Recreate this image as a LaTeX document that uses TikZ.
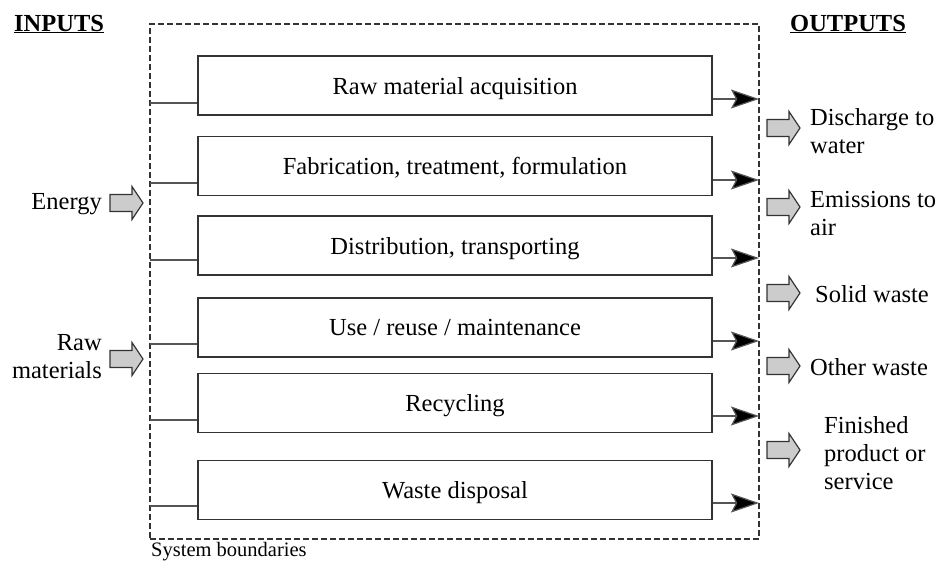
\documentclass[tikz,border=0pt]{standalone}
\usepackage{fontspec}
\setmainfont{Liberation Serif}
\usetikzlibrary{arrows.meta}
\definecolor{boxline}{HTML}{333333}
\definecolor{thinline}{HTML}{555555}
\definecolor{arrowfill}{HTML}{CCCCCC}
\newcommand\grayarrow[2]{%
  \draw[blockarrow] (#1,#2-8.5) -- (#1+22,#2-8.5) -- (#1+22,#2-16.5) -- (#1+33,#2) -- (#1+22,#2+16.5) -- (#1+22,#2+8.5) -- (#1,#2+8.5) -- cycle;}
\begin{document}
\begin{tikzpicture}[x=1pt,y=-1pt,
  font=\fontsize{24.5}{28}\selectfont,
  stepbox/.style={draw=boxline,line width=1.4pt,minimum width=514pt,minimum height=59pt,inner sep=0pt,text depth=0pt},
  sysbox/.style={draw=boxline,dashed,dash pattern=on 6pt off 3pt,line width=1.4pt,minimum width=609pt,minimum height=515pt,inner sep=0pt},
  inline/.style={draw=thinline,line width=1.2pt},
  outline/.style={draw=thinline,line width=1.2pt,-{Stealth[length=28pt,width=19pt,inset=5pt,fill=black]}},
  blockarrow/.style={draw=boxline,fill=arrowfill,line width=1.2pt,line join=miter},
  lbl/.style={inner sep=0pt},
  head/.style={inner sep=0pt,anchor=base west,font=\fontsize{24.5}{28}\selectfont\bfseries}]
\useasboundingbox (0,0) rectangle (941,562);
\node[sysbox] (sys) at (454.5,281.5) {};
\node[stepbox] (b1) at (455,85.5) {Raw material acquisition};
\node[stepbox] (b2) at (455,166) {Fabrication, treatment, formulation};
\node[stepbox] (b3) at (455,245.5) {Distribution, transporting};
\node[stepbox] (b4) at (455,327.5) {Use / reuse / maintenance};
\node[stepbox] (b5) at (455,403) {Recycling};
\node[stepbox] (b6) at (455,490) {Waste disposal};
% left connectors
\foreach \i/\y in {1/103,2/183,3/260,4/344,5/420,6/506}{
  \coordinate (l\i) at (150,\y);
  \draw[inline] (l\i) -- (l\i -| b\i.west);
}
% right connectors
\foreach \i/\y in {1/99,2/180,3/258,4/341,5/416,6/503}{
  \coordinate (r\i) at (759,\y);
  \draw[outline] (r\i -| b\i.east) -- (r\i);
}
% headings
\node[head] (inputs) at (14,31) {\underline{INPUTS}};
\node[head] (outputs) at (790,31) {\underline{OUTPUTS}};
\node[lbl,anchor=base west,font=\fontsize{20.5}{24}\selectfont] (sb) at (151,556) {System boundaries};
% inputs
\node[lbl,anchor=east] (energy) at (102,204) {Energy};
\node[lbl,anchor=east,align=right] (raw) at (102,357) {Raw\\materials};
\grayarrow{110}{203}
\grayarrow{110}{359}
% outputs
\grayarrow{767}{128}
\grayarrow{767}{207}
\grayarrow{767}{293}
\grayarrow{767}{366}
\grayarrow{767}{450}
\node[lbl,anchor=west,align=left] (o1) at (810,131) {Discharge to\\water};
\node[lbl,anchor=west,align=left] (o2) at (810,214) {Emissions to\\air};
\node[lbl,anchor=west] (o3) at (815,294) {Solid waste};
\node[lbl,anchor=west] (o4) at (810,367) {Other waste};
\node[lbl,anchor=west,align=left] (o5) at (824,453) {Finished\\product or\\service};
\end{tikzpicture}
\end{document}
